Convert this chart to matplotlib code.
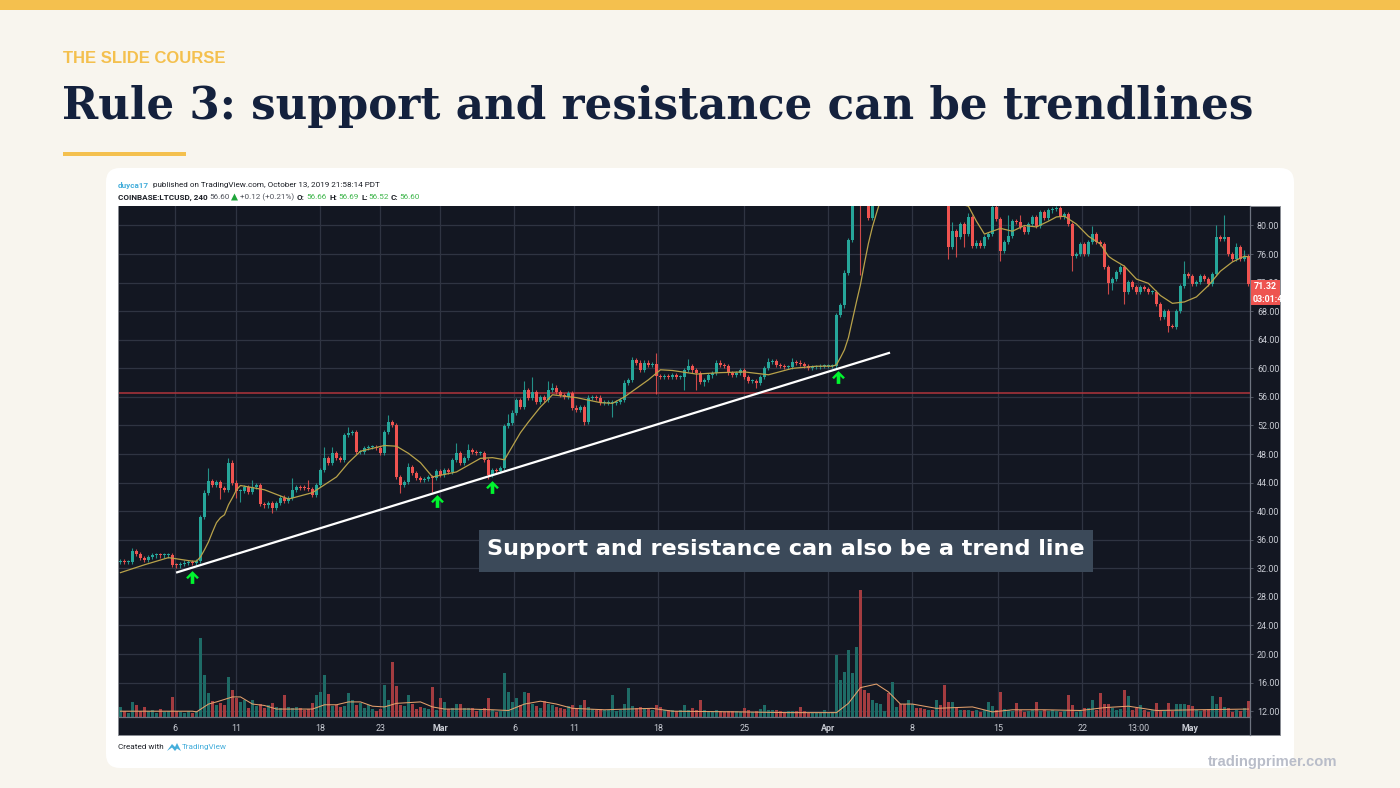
#!/usr/bin/env python3
"""Slide: Rule 3, support and resistance can be trendlines (LTCUSD 4h chart)."""

import matplotlib
matplotlib.use("Agg")
import matplotlib.pyplot as plt
import numpy as np
from matplotlib.patches import FancyBboxPatch, Polygon, Rectangle
from matplotlib.path import Path

# --- candles: one entry per bar, price at close ---
closes = [
    33.0, 32.9, 32.9, 34.4, 34.0, 33.4, 33.2, 33.6, 33.8, 33.9,
    33.8, 33.8, 33.8, 32.5, 32.4, 32.6, 32.8, 32.8, 32.7, 33.0,
    39.2, 42.6, 44.2, 43.7, 44.1, 43.2, 43.0, 46.8, 44.0, 42.8,
    42.8, 43.4, 42.7, 43.4, 43.6, 41.0, 40.8, 41.1, 40.4, 41.1,
    41.9, 41.4, 41.8, 43.0, 43.4, 43.3, 43.2, 43.1, 42.3, 43.7,
    45.8, 47.4, 46.8, 48.1, 47.4, 47.2, 50.7, 51.0, 51.1, 48.3,
    48.3, 48.8, 49.0, 49.0, 48.8, 48.2, 51.1, 52.5, 52.1, 44.8,
    43.7, 44.1, 46.2, 45.3, 44.6, 44.4, 44.5, 44.8, 44.6, 45.6,
    45.1, 45.8, 45.5, 47.2, 48.1, 46.8, 47.4, 48.5, 48.3, 48.1,
    48.1, 47.2, 45.1, 45.8, 45.6, 46.0, 51.9, 52.4, 53.8, 55.6,
    54.6, 57.0, 55.9, 56.7, 55.3, 56.0, 55.6, 57.0, 57.3, 56.7,
    56.3, 56.0, 56.5, 54.5, 54.2, 54.6, 52.5, 55.9, 56.0, 55.9,
    55.2, 55.2, 55.2, 55.2, 55.3, 55.6, 58.0, 58.4, 61.2, 60.8,
    59.8, 60.8, 60.5, 60.6, 58.9, 58.8, 58.9, 58.8, 59.0, 58.8,
    58.8, 59.8, 60.3, 59.7, 59.3, 58.1, 58.4, 59.0, 59.3, 60.8,
    60.5, 60.3, 59.3, 59.1, 59.3, 59.7, 58.8, 58.2, 58.2, 58.0,
    58.8, 60.0, 60.9, 61.0, 60.5, 60.3, 60.2, 60.2, 60.9, 60.8,
    60.6, 60.3, 60.0, 60.2, 60.2, 60.3, 60.3, 60.3, 60.3, 67.5,
    68.8, 73.4, 78.0, 88.0, 92.0, 85.0, 84.0, 81.0, 86.0, 88.0,
    90.0, 92.0, 90.0, 93.0, 95.0, 92.0, 90.0, 94.0, 96.0, 92.0,
    90.0, 88.0, 91.0, 89.0, 92.0, 90.0, 88.0, 77.0, 79.2, 78.4,
    80.2, 78.8, 81.2, 77.1, 77.6, 77.1, 78.4, 78.8, 82.6, 80.9,
    76.4, 77.7, 78.5, 80.6, 80.5, 79.8, 79.1, 80.2, 81.2, 79.9,
    81.9, 81.0, 82.1, 82.3, 82.4, 81.2, 81.6, 80.2, 75.7, 76.0,
    77.4, 76.0, 77.7, 78.8, 77.7, 77.4, 74.2, 72.0, 72.5, 73.5,
    74.2, 70.7, 72.1, 71.4, 70.7, 71.4, 71.1, 70.7, 70.7, 69.0,
    67.2, 68.0, 65.9, 65.8, 68.0, 71.5, 73.2, 72.9, 71.8, 72.1,
    72.9, 72.5, 71.8, 73.2, 78.4, 78.1, 78.4, 76.0, 75.3, 77.0,
    75.3, 75.7, 71.8,
]
first_open = 32.9

# long wicks only, everything else gets the short default
hi_idx = [3, 22, 27, 33, 43, 47, 51, 53, 57, 67, 72, 84, 87, 97, 101, 103, 107, 108, 128, 134,
          142, 149, 162, 168, 208, 212, 222, 225, 243, 266, 274, 276, 277, 279, 281]
hi_val = [34.9, 46.0, 47.4, 44.4, 44.6, 44.4, 49.0, 49.0, 51.8, 53.5, 46.8, 49.5, 49.4, 53.6, 58.2,
          58.8, 58.2, 57.9, 61.6, 62.1, 61.3, 61.2, 61.5, 61.4, 80.5, 81.8, 81.5, 81.5, 79.9,
          75.0, 80.0, 81.5, 76.8, 77.6, 76.5]
lo_idx = [25, 29, 30, 38, 70, 78, 92, 116, 123, 134, 141, 144, 146, 159, 185, 207, 209, 211, 220,
          238, 247, 248, 251, 260, 262, 263]
lo_val = [41.7, 41.8, 41.3, 39.8, 42.6, 42.7, 44.5, 52.0, 53.2, 56.4, 57.0, 56.9, 57.5, 57.2, 73.0,
          75.3, 75.6, 77.0, 75.0, 73.6, 70.4, 70.9, 69.0, 66.8, 65.1, 65.6]

# moving average on price
ma_idx = [0, 6, 12, 18, 19, 20, 21, 22, 23, 24, 25, 26, 27, 28, 29, 30, 36, 42, 48, 54, 57, 60, 66,
          69, 72, 75, 78, 84, 90, 93, 96, 100, 102, 105, 108, 114, 120, 123, 126, 132, 135, 138,
          144, 150, 156, 162, 168, 174, 178, 179, 180, 181, 182, 183, 184, 185, 186, 187, 188,
          189, 190, 195, 205, 210, 212, 214, 216, 220, 223, 226, 229, 232, 234, 236, 239, 242,
          245, 247, 248, 251, 254, 257, 260, 263, 266, 269, 272, 275, 278, 281, 282]
ma_val = [31.4, 32.5, 33.5, 33.0, 33.0, 33.6, 34.6, 35.7, 37.1, 38.4, 39.1, 39.5, 40.9, 41.9, 43.0,
          43.6, 43.0, 41.7, 42.6, 44.8, 46.8, 48.4, 49.2, 49.1, 48.1, 46.8, 44.8, 45.5, 47.4, 47.5,
          47.2, 51.0, 52.5, 54.6, 56.3, 55.9, 55.2, 55.1, 56.0, 58.4, 59.8, 59.7, 59.2, 59.4, 59.5,
          59.1, 60.0, 60.3, 60.3, 60.5, 61.5, 62.6, 64.3, 66.8, 69.3, 71.7, 74.7, 77.5, 79.8, 81.7,
          83.5, 88.0, 88.0, 83.0, 82.7, 80.6, 78.8, 79.6, 79.2, 80.0, 79.8, 80.6, 81.2, 81.3, 80.2,
          78.5, 77.4, 75.7, 75.3, 74.3, 72.5, 71.9, 70.2, 69.1, 69.3, 70.0, 71.6, 73.6, 74.9, 75.7,
          75.6]

# volume overlay is pinned to the price scale, so tops are read in price units
vol_base = 11.23
volumes = [
    12.6, 12.0, 11.8, 13.3, 12.9, 12.0, 12.6, 12.0, 12.1, 11.8,
    12.3, 11.9, 12.0, 14.0, 12.0, 11.9, 11.8, 12.0, 11.7, 12.0,
    22.2, 17.0, 14.5, 13.4, 12.9, 13.2, 12.9, 16.8, 15.0, 13.8,
    13.3, 13.6, 12.5, 13.6, 12.7, 13.0, 12.4, 12.9, 13.2, 12.6,
    12.4, 14.2, 12.6, 12.4, 12.6, 12.5, 12.2, 12.3, 13.2, 14.2,
    14.7, 17.0, 14.4, 12.7, 12.9, 12.6, 12.7, 14.5, 13.6, 12.9,
    13.1, 12.5, 12.9, 12.3, 12.0, 12.3, 15.6, 13.6, 18.9, 15.5,
    12.8, 12.7, 14.2, 13.0, 12.3, 12.6, 12.4, 12.3, 15.4, 12.1,
    13.8, 13.3, 12.3, 12.5, 13.0, 13.0, 12.4, 12.4, 12.4, 12.0,
    12.3, 12.4, 13.8, 12.2, 11.9, 12.0, 17.3, 14.7, 13.3, 13.8,
    12.9, 14.7, 14.5, 13.0, 12.7, 12.4, 13.4, 13.0, 12.8, 12.6,
    12.4, 12.3, 12.7, 12.9, 12.5, 12.9, 13.6, 12.6, 12.3, 12.2,
    12.3, 12.2, 12.2, 14.3, 12.0, 12.2, 13.0, 15.2, 12.7, 12.5,
    12.6, 12.4, 12.3, 12.2, 12.8, 12.6, 12.2, 12.1, 12.1, 12.0,
    12.1, 12.9, 12.2, 12.4, 12.1, 13.6, 12.1, 12.0, 12.0, 12.2,
    12.0, 11.9, 12.0, 12.0, 12.0, 11.9, 12.4, 12.2, 11.9, 12.0,
    12.3, 12.8, 12.1, 12.2, 12.2, 12.0, 11.9, 12.0, 12.0, 12.0,
    12.6, 12.0, 11.8, 11.7, 11.7, 11.8, 12.2, 11.8, 11.9, 19.9,
    16.3, 17.5, 20.6, 17.3, 21.0, 29.0, 15.0, 14.5, 13.6, 13.2,
    13.0, 12.0, 14.5, 16.1, 12.6, 13.0, 13.0, 13.6, 13.0, 12.5,
    12.5, 12.3, 12.2, 12.1, 13.6, 12.9, 15.6, 13.3, 13.3, 12.4,
    12.2, 12.1, 12.2, 12.0, 12.1, 11.9, 12.2, 13.3, 12.7, 12.1,
    14.7, 12.3, 12.1, 12.0, 13.1, 12.2, 11.9, 12.0, 12.2, 13.3,
    12.0, 12.1, 12.0, 12.1, 12.0, 11.9, 12.0, 14.3, 12.9, 11.9,
    12.0, 12.4, 12.4, 13.6, 12.2, 14.5, 13.0, 13.0, 12.5, 12.1,
    12.3, 15.0, 14.1, 12.2, 12.5, 12.9, 12.1, 11.9, 12.1, 13.1,
    12.0, 12.0, 13.1, 12.0, 13.0, 13.0, 13.0, 12.8, 12.7, 12.1,
    12.0, 12.2, 12.3, 14.1, 13.0, 14.0, 12.6, 12.5, 11.9, 12.1,
    12.0, 12.4, 13.4,
]
vma_idx = [0, 18, 19, 22, 24, 28, 30, 33, 36, 39, 42, 48, 51, 54, 57, 60, 63, 66, 69, 72, 75, 78, 81,
           87, 93, 97, 101, 105, 109, 113, 121, 133, 138, 155, 167, 179, 182, 185, 189, 192, 195,
           198, 204, 213, 218, 223, 231, 240, 246, 252, 259, 269, 282]
vma_val = [12.0, 12.0, 11.9, 13.0, 13.3, 14.0, 14.0, 13.0, 12.8, 12.3, 12.3, 12.3, 12.9, 12.9, 13.3,
           13.3, 12.7, 12.6, 13.1, 13.2, 13.3, 12.6, 12.3, 12.3, 12.2, 12.1, 13.0, 13.4, 13.0, 12.4,
           12.2, 12.4, 12.0, 11.9, 11.8, 11.8, 13.1, 15.3, 15.8, 14.7, 13.0, 13.0, 12.4, 12.6, 11.9,
           12.2, 12.2, 12.1, 12.5, 12.7, 12.1, 12.2, 12.3]

# axes labels
price_ticks = [12, 16, 20, 24, 28, 32, 36, 40, 44, 48, 52, 56, 60, 64, 68, 72, 76, 80]
time_pos = [13.6, 29, 50, 65, 80, 98.5, 113.5, 134.5, 156, 177, 198, 219.5, 240.5, 254.5, 267.5]
time_labels = ["6", "11", "18", "23", "Mar", "6", "11", "18", "25", "Apr", "8", "15", "22", "13:00", "May"]
bold_labels = ["Mar", "Apr", "May"]

# drawn annotations
resistance_price = 56.5
trend_idx = [13.9, 192.4]
trend_price = [31.4, 62.2]
arrow_idx = [17.9, 79.1, 93.0, 179.4]
arrow_price = [30.8, 41.45, 43.4, 58.8]
last_price = "71.32"
countdown = "03:01:47"

UP = "#26A69A"
DOWN = "#EF5350"
VOL_UP = "#1E6B66"
VOL_DOWN = "#A33C40"
PANEL = "#131722"
GRID = "#2F3442"
TICK_TEXT = "#C9CCD4"
PAGE = "#F8F5EE"
GOLD = "#F4C04E"
NAVY = "#14213D"
BLUE = "#45AEDB"
GREEN_TXT = "#3DB54A"
INK = "#1D2027"
UI_FONT = "Roboto"

W, H = 1400, 788
fig = plt.figure(figsize=(W / 100, H / 100), dpi=100, facecolor=PAGE)


def px_axes(x0, y0, x1, y1, **kw):
    # pixel box measured from the top left of the slide
    return fig.add_axes([x0 / W, 1 - y1 / H, (x1 - x0) / W, (y1 - y0) / H], **kw)


# background layer in slide pixels
bg = px_axes(0, 0, W, H, zorder=0)
bg.set_xlim(0, W)
bg.set_ylim(H, 0)
bg.axis("off")
bg.add_patch(Rectangle((0, 0), W, 10, fc=GOLD, ec="none"))
bg.add_patch(Rectangle((63, 152), 123, 4, fc=GOLD, ec="none"))
bg.add_patch(FancyBboxPatch((106, 168), 1188, 600, boxstyle="round,pad=0,rounding_size=14",
                            fc="white", ec="none"))
bg.add_patch(Rectangle((118, 205.5), 1162, 529.5, fc=PANEL, ec="#8A8D94", lw=0.7))

bg.text(63, 58, "THE SLIDE COURSE", family="Liberation Sans", weight="bold", fontsize=12.0,
        color=GOLD, va="center", ha="left")
bg.text(62, 106, "Rule 3: support and resistance can be trendlines", family="DejaVu Serif",
        weight="bold", fontsize=31.45, color=NAVY, va="center", ha="left")
bg.text(1337, 762, "tradingprimer.com", family="Liberation Sans", weight="bold", fontsize=10.6,
        color="#B9BDC9", va="center", ha="right")

# TradingView header lines
hdr = dict(family=UI_FONT, fontsize=5.9, va="center", ha="left")
line1 = 185
line2 = 197
bg.text(118, line1, "duyca17", color=BLUE, weight="bold", **hdr)
bg.text(153, line1, "published on TradingView.com, October 13, 2019 21:58:14 PDT", color=INK, **hdr)
bg.text(118, line2, "COINBASE:LTCUSD, 240", color=INK, weight="bold", **hdr)
bg.text(209, line2, "56.60", color="#50535C", **hdr)
bg.add_patch(Polygon([[231, 200.5], [238, 200.5], [234.5, 193.5]], fc="#1FA53A", ec="none"))
bg.text(240, line2, "+0.12 (+0.21%)", color="#50535C", **hdr)
for x_lab, lab, x_val, val in [(297, "O:", 306, "56.66"), (329, "H:", 338, "56.69"),
                               (361, "L:", 368, "56.52"), (391, "C:", 399, "56.60")]:
    bg.text(x_lab, line2, lab, color=INK, weight="bold", **hdr)
    bg.text(x_val, line2, val, color=GREEN_TXT, **hdr)

bg.text(118, 747, "Created with", color=INK, **hdr)
bg.add_patch(Polygon([[167, 751], [172, 744], [175, 747], [177, 743], [181, 751], [177, 748.5],
                      [175, 751], [172, 747.5]], fc=BLUE, ec="none"))
bg.text(182, 747, "TradingView", color=BLUE, **hdr)

# chart panel, price and bar index on real scales
ax = px_axes(118.5, 206, 1250, 716.7, zorder=1, facecolor=PANEL)
ax.set_xlim(-0.5, 282.4)
ax.set_ylim(vol_base, 82.73)

x = np.arange(len(closes))
c = np.array(closes)
o = np.r_[first_open, c[:-1]]
up = c >= o
hi = np.maximum(o, c) + 0.3
lo = np.minimum(o, c) - 0.3
hi[hi_idx] = hi_val
lo[lo_idx] = lo_val

ax.set_yticks(price_ticks)
ax.set_yticklabels([f"{p:.2f}" for p in price_ticks], family=UI_FONT, fontsize=6.4, color=TICK_TEXT)
ax.yaxis.tick_right()
ax.set_xticks(time_pos)
ax.set_xticklabels(time_labels, family=UI_FONT, fontsize=6.4, color=TICK_TEXT)
for lab in ax.get_xticklabels():
    if lab.get_text() in bold_labels:
        lab.set_fontweight("bold")
ax.tick_params(axis="y", length=2.5, width=0.6, color="#5A5F6C", pad=2.5)
ax.tick_params(axis="x", length=0, pad=5)
ax.grid(True, color=GRID, lw=0.9)
ax.set_axisbelow(True)
for name, spine in ax.spines.items():
    spine.set_visible(name in ("right", "bottom"))
    spine.set_color("#6E7480")
    spine.set_linewidth(0.9)

v = np.array(volumes)
ax.bar(x, v - vol_base, bottom=vol_base, width=0.85, color=np.where(up, VOL_UP, VOL_DOWN), lw=0, zorder=2)
ax.plot(vma_idx, vma_val, color="#E3A06C", lw=0.75, zorder=3)

ax.axhline(resistance_price, color="#B0353C", lw=1.1, zorder=3)

ax.vlines(x, lo, hi, colors=np.where(up, UP, DOWN), lw=0.8, alpha=0.85, zorder=4)
body = np.maximum(np.abs(c - o), 0.15)
ax.bar(x, body, bottom=np.minimum(o, c), width=0.78, color=np.where(up, UP, DOWN), lw=0, zorder=5)
ax.plot(ma_idx, ma_val, color="#B8A24A", lw=0.9, zorder=6)

ax.plot(trend_idx, trend_price, color="white", lw=1.6, zorder=7, solid_capstyle="butt")

arrow = Path([(0, 1), (1, 0), (0.72, -0.25), (0.28, 0.2), (0.28, -1), (-0.28, -1), (-0.28, 0.2),
              (-0.72, -0.25), (-1, 0), (0, 1)], closed=True)
ax.scatter(arrow_idx, arrow_price, marker=arrow, s=85, color="#00F52E", lw=0, zorder=8)

# overlay for the caption and the price tags
over = px_axes(0, 0, W, H, zorder=5)
over.set_xlim(0, W)
over.set_ylim(H, 0)
over.axis("off")
over.plot([1250, 1250], [716, 735], color="#6E7480", lw=0.9)
over.add_patch(Rectangle((478.5, 530), 614, 41.5, fc="#3B4959", ec="none"))
over.text(785.5, 549, "Support and resistance can also be a trend line", family="DejaVu Sans", weight="bold",
          fontsize=16.1, color="white", ha="center", va="center")

over.add_patch(Rectangle((1251, 280), 29, 13, fc="#EE5450", ec="none"))
tag_clip = Rectangle((1251, 293), 29, 12, fc="#EE5450", ec="none")
over.add_patch(tag_clip)
over.text(1265.5, 286.5, last_price, family=UI_FONT, weight="bold", fontsize=6.4, color="white",
          ha="center", va="center")
cd = over.text(1253, 299.3, countdown, family=UI_FONT, weight="bold", fontsize=6.4, color="white",
               ha="left", va="center")
cd.set_clip_path(tag_clip)

fig.savefig("out.png", dpi=100, facecolor=PAGE)
